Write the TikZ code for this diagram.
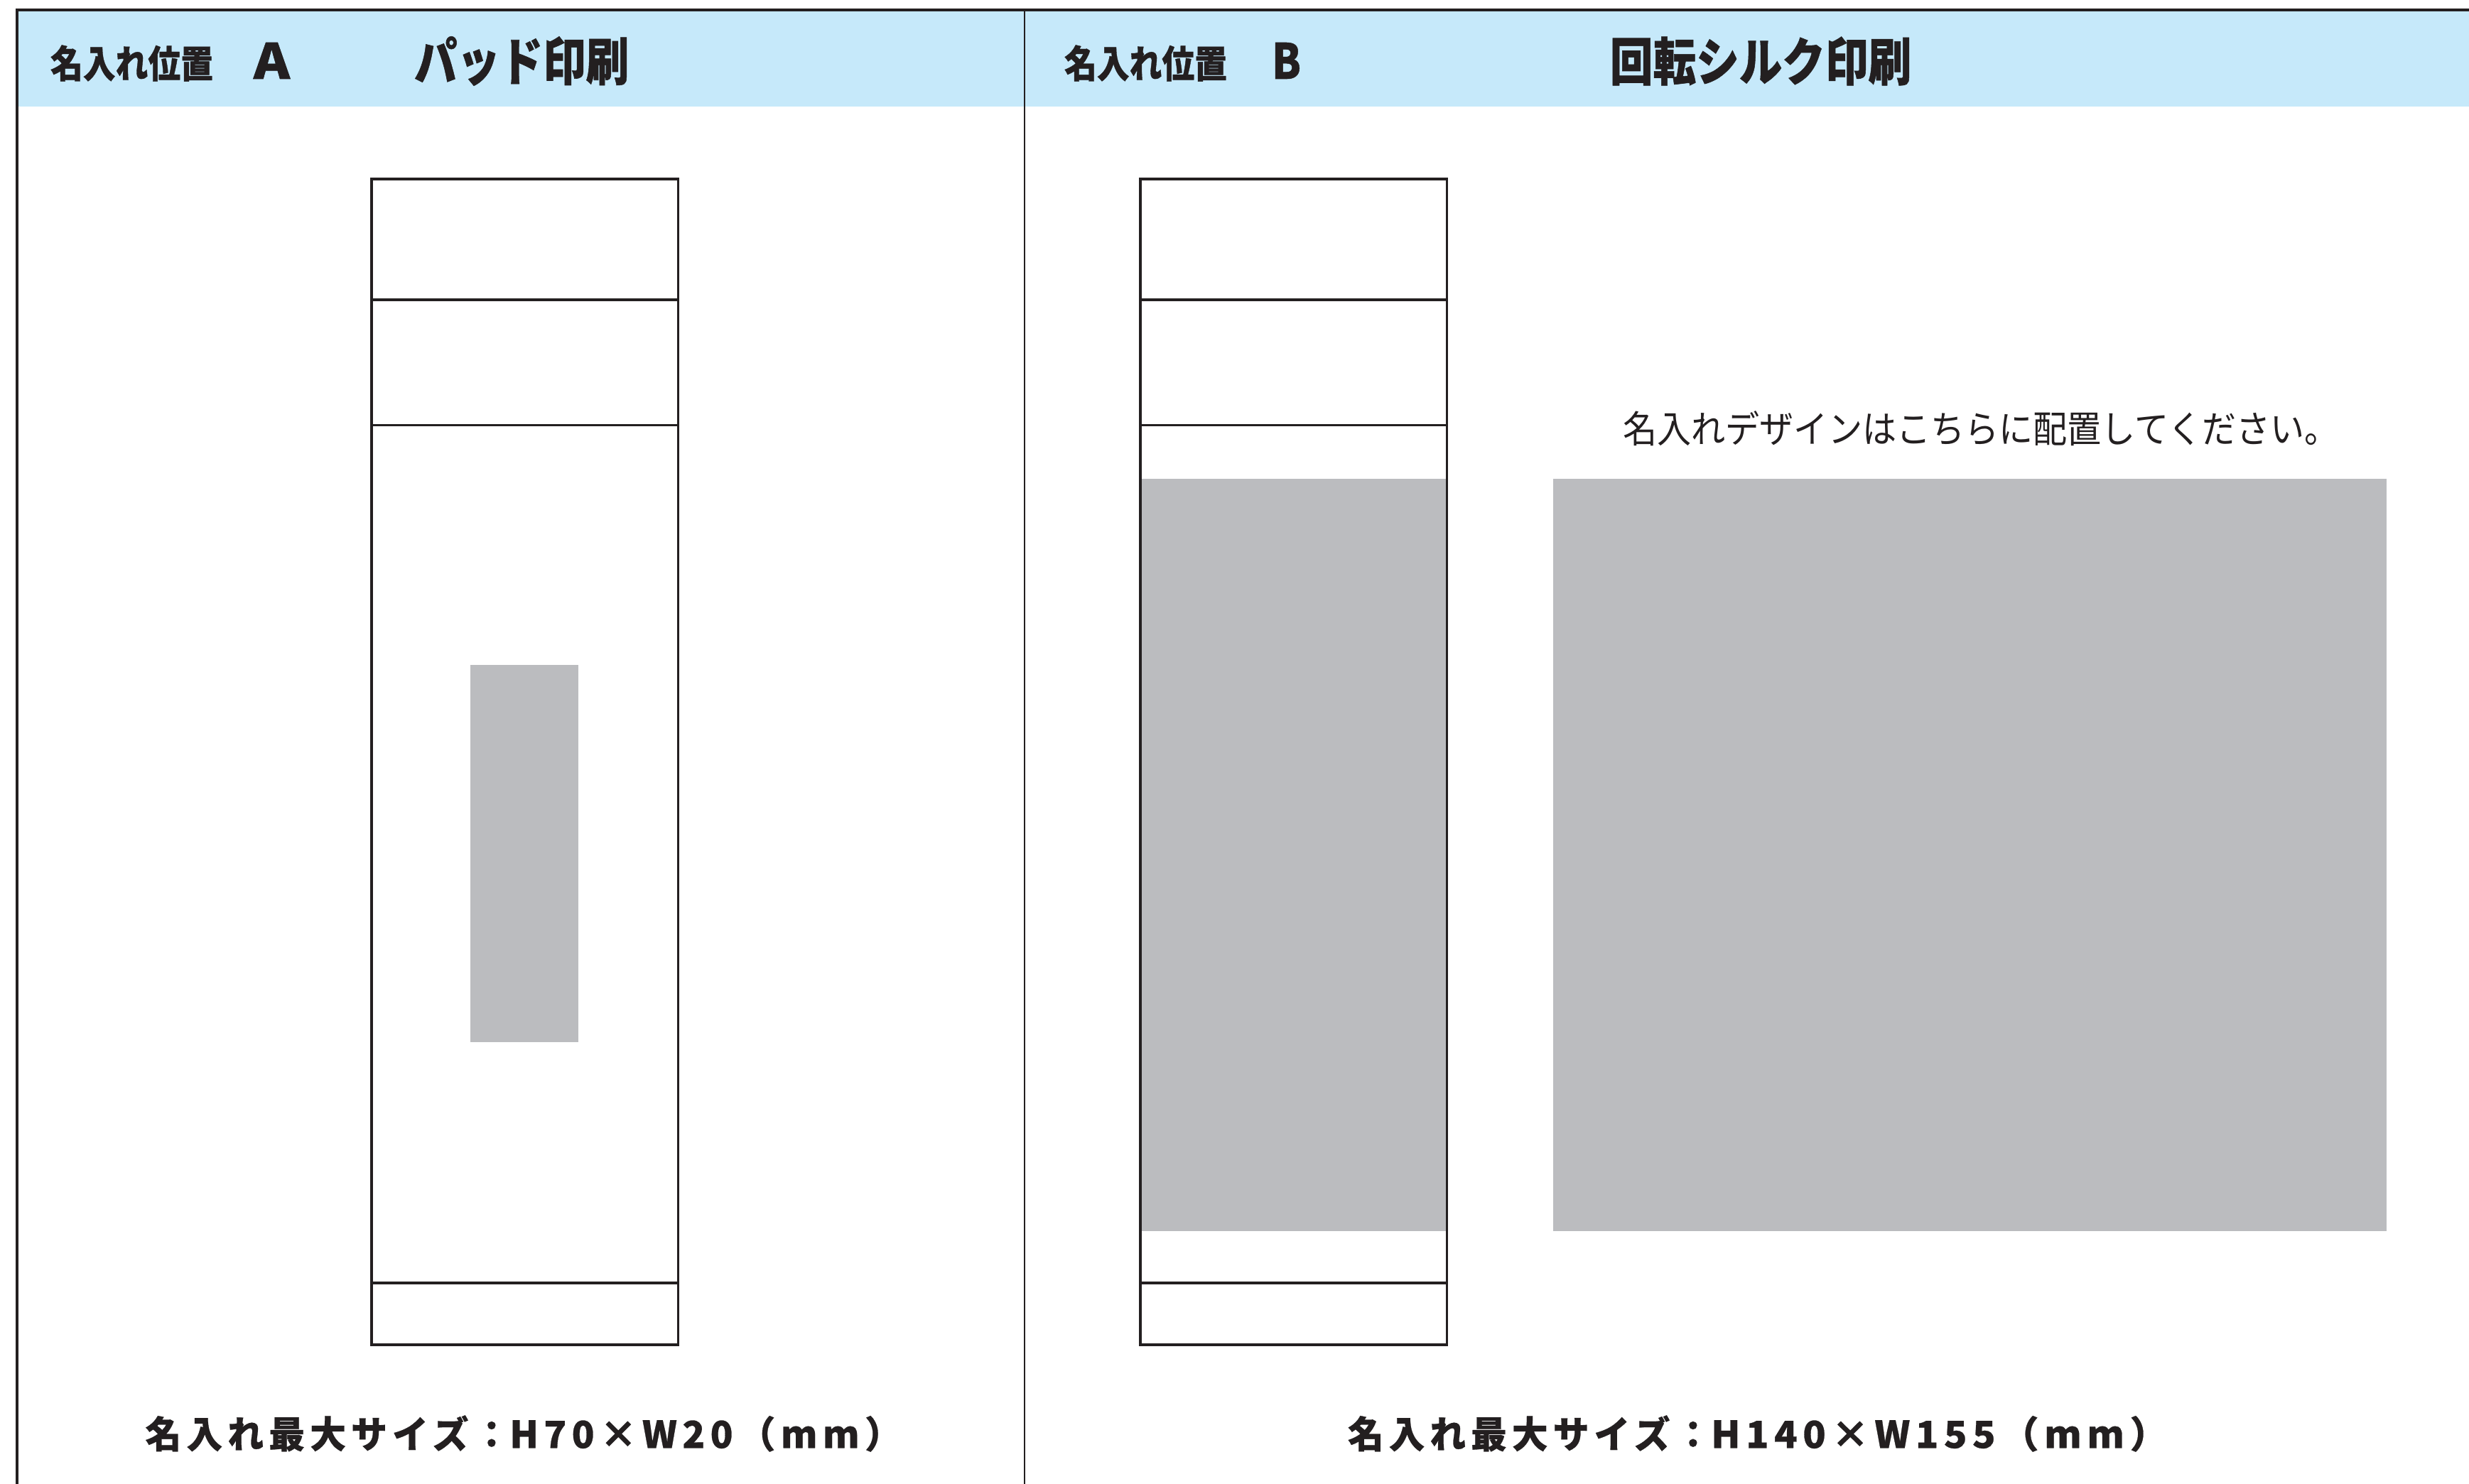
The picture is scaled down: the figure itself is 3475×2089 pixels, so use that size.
\documentclass[tikz,border=0pt]{standalone}
\usepackage{fontspec}
\usepackage{graphicx}
\newfontfamily\jp[BoldFeatures={FakeBold=0.8}]{Noto Sans CJK JP}
\newfontfamily\jpsp[LetterSpace=14,BoldFeatures={FakeBold=0.5}]{Noto Sans CJK JP}
\definecolor{band}{HTML}{C6E9FA}
\definecolor{ink}{HTML}{231F20}
\definecolor{zone}{HTML}{BBBCBF}
\tikzset{
  px/.style={x=0.01cm,y=-0.01cm},
  frameline/.style={draw=ink,line width=1.15pt},
  divider/.style={draw=ink,line width=0.75pt},
  bottle/.style={draw=ink,line width=0.9pt},
  zonefill/.style={fill=zone,draw=none},
  txt/.style={inner sep=0pt,outer sep=0pt,text=ink,anchor=center}
}
\newcommand{\fit}[3]{\resizebox{#1\dimexpr0.01cm\relax}{#2\dimexpr0.01cm\relax}{#3}}
\begin{document}
\begin{tikzpicture}[px]
\useasboundingbox (0,0) rectangle (3475,2089);
\fill[white] (0,0) rectangle (3475,2089);
\fill[band] (24,14) rectangle (3475,150);
% panel frame
\draw[frameline] (24,2089) -- (24,14) -- (3475,14);
\draw[divider] (1442,14) -- (1442,2089);
% header texts
\node[txt] (la) at (185.5,89) {\fit{229}{46}{\jp\bfseries 名入れ位置}};
\node[txt] (a) at (382.5,85.5) {\fit{51}{51}{\jp\bfseries A}};
\node[txt] (ta) at (734,86) {\fit{302}{62}{\jp\bfseries パッド印刷}};
\node[txt] (lb) at (1612.5,89) {\fit{229}{46}{\jp\bfseries 名入れ位置}};
\node[txt] (b) at (1810.5,85.5) {\fit{41}{51}{\jp\bfseries B}};
\node[txt] (tb) at (2478,86) {\fit{424}{62}{\jp\bfseries 回転シルク印刷}};
% bottle A
\draw[zonefill] (661.5,936) rectangle (814,1467);
\draw[bottle] (523,252) rectangle (954.5,1893);
\draw[bottle] (523,422) -- (954.5,422);
\draw[bottle] (523,598.5) -- (954.5,598.5);
\draw[bottle] (523,1806) -- (954.5,1806);
% bottle B
\draw[zonefill] (1605,674) rectangle (2036,1732.5);
\draw[bottle] (1605,252) rectangle (2036.5,1893);
\draw[bottle] (1605,422) -- (2036.5,422);
\draw[bottle] (1605,598.5) -- (2036.5,598.5);
\draw[bottle] (1605,1806) -- (2036.5,1806);
% design area
\draw[zonefill] (2186,674) rectangle (3358.5,1732.5);
\node[txt] (hint) at (2788,603) {\fit{1007}{45}{\jp 名入れデザインはこちらに配置してください。}};
% sizes
\node[txt] (sa) at (737,2018) {\fit{1065}{46}{\jpsp\bfseries \scalebox{0.968}[1]{名入れ最大サイズ：}H70×W20（mm）}};
\node[txt] (sb) at (2474,2018) {\fit{1154}{46}{\jpsp\bfseries \scalebox{0.947}[1]{名入れ最大サイズ：}H140×W155（mm）}};
\end{tikzpicture}
\end{document}
